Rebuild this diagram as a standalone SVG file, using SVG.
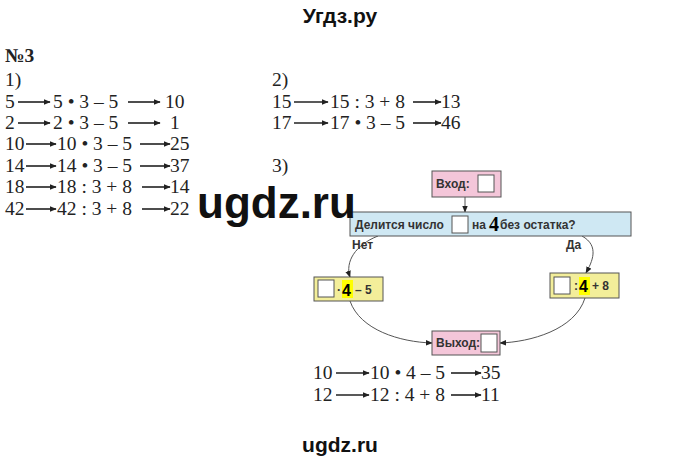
<svg xmlns="http://www.w3.org/2000/svg" width="680" height="463" viewBox="0 0 680 463">
<defs>
<marker id="ah" viewBox="0 0 10 10" refX="9" refY="5" markerWidth="7" markerHeight="7" orient="auto-start-reverse" markerUnits="userSpaceOnUse"><path d="M0,1 L10,5 L0,9 z" fill="#222"/></marker>
<style>
.t{font-family:"Liberation Serif",serif;font-size:19.5px;fill:#222}
.s{font-family:"Liberation Sans",sans-serif;font-weight:bold;font-size:12px;fill:#333}
.a{stroke:#222;stroke-width:1.6;fill:none;marker-end:url(#ah)}
.c{stroke:#555;stroke-width:1;fill:none;marker-end:url(#ah)}
.pink{fill:#f4c6d9;stroke:#555}
.yel{fill:#f3ee9a;stroke:#555}
.sq{fill:#fff;stroke:#555}
.w{font-family:"Liberation Sans",sans-serif;font-weight:bold;fill:#111}
</style>
</defs>
<rect width="680" height="463" fill="#fff"/>
<text class="w" x="340" y="23" font-size="21" text-anchor="middle" font-weight="normal">Угдз.ру</text>
<text class="t" x="5" y="62" font-weight="bold" font-size="18">№3</text>
<text class="t" x="5" y="86">1)</text>
<text class="t" x="5" y="108">5</text><text class="t" x="53" y="108">5 • 3 – 5</text><text class="t" x="165" y="108">10</text>
<text class="t" x="5" y="129">2</text><text class="t" x="53" y="129">2 • 3 – 5</text><text class="t" x="170" y="129">1</text>
<text class="t" x="5" y="150">10</text><text class="t" x="57" y="150">10 • 3 – 5</text><text class="t" x="170" y="150">25</text>
<text class="t" x="5" y="172">14</text><text class="t" x="57" y="172">14 • 3 – 5</text><text class="t" x="170" y="172">37</text>
<text class="t" x="5" y="193">18</text><text class="t" x="57" y="193">18 : 3 + 8</text><text class="t" x="170" y="193">14</text>
<text class="t" x="5" y="215">42</text><text class="t" x="57" y="215">42 : 3 + 8</text><text class="t" x="170" y="215">22</text>
<text class="t" x="272" y="86">2)</text>
<text class="t" x="272" y="108">15</text><text class="t" x="330" y="108">15 : 3 + 8</text><text class="t" x="441" y="108">13</text>
<text class="t" x="272" y="129">17</text><text class="t" x="330" y="129">17 • 3 – 5</text><text class="t" x="441" y="129">46</text>
<text class="t" x="272" y="172">3)</text>
<text class="t" x="313" y="379">10</text><text class="t" x="370" y="379">10 • 4 – 5</text><text class="t" x="481" y="379">35</text>
<text class="t" x="313" y="401">12</text><text class="t" x="370" y="401">12 : 4 + 8</text><text class="t" x="481" y="401">11</text>
<g id="connectors">
<line class="a" x1="18" y1="102" x2="50" y2="102"/><line class="a" x1="128" y1="102" x2="160" y2="102"/>
<line class="a" x1="18" y1="123" x2="50" y2="123"/><line class="a" x1="128" y1="123" x2="160" y2="123"/>
<line class="a" x1="26" y1="144" x2="56" y2="144"/><line class="a" x1="140" y1="144" x2="170" y2="144"/>
<line class="a" x1="26" y1="166" x2="56" y2="166"/><line class="a" x1="140" y1="166" x2="170" y2="166"/>
<line class="a" x1="26" y1="187" x2="56" y2="187"/><line class="a" x1="142" y1="187" x2="170" y2="187"/>
<line class="a" x1="26" y1="209" x2="56" y2="209"/><line class="a" x1="142" y1="209" x2="170" y2="209"/>
<line class="a" x1="294" y1="102" x2="328" y2="102"/><line class="a" x1="413" y1="102" x2="441" y2="102"/>
<line class="a" x1="294" y1="123" x2="328" y2="123"/><line class="a" x1="413" y1="123" x2="441" y2="123"/>
<line class="a" x1="336" y1="373" x2="369" y2="373"/><line class="a" x1="451" y1="373" x2="481" y2="373"/>
<line class="a" x1="336" y1="395" x2="369" y2="395"/><line class="a" x1="451" y1="395" x2="481" y2="395"/>
<line class="c" x1="465" y1="197" x2="465" y2="212"/>
<path class="c" d="M378,236 C355,245 345,262 350,277"/>
<path class="c" d="M582,236 C600,246 592,262 586,273"/>
<path class="c" d="M350,301 C360,330 400,342 432,343"/>
<path class="c" d="M585,298 C575,330 530,342 500,343"/>
</g>
<g id="vhod"><rect class="pink" x="432" y="171" width="69" height="26"/><text class="s" x="436" y="188">Вход:</text><rect class="sq" x="478" y="175" width="16" height="17"/></g>
<g id="check"><rect x="350" y="212" width="281" height="24" fill="#cfe8f3" stroke="#555"/><text class="s" x="355" y="229">Делится число</text><rect class="sq" x="452" y="216" width="16" height="17"/><text class="s" x="472" y="229">на</text><text x="489" y="231" font-family="Liberation Serif,serif" font-weight="bold" font-size="20">4</text><text class="s" x="500" y="229">без остатка?</text></g>
<text class="s" x="352" y="249">Нет</text><text class="s" x="566" y="249">Да</text>
<g id="left"><rect class="yel" x="314" y="277" width="69" height="24"/><rect class="sq" x="318" y="280" width="16" height="17"/><text class="s" x="337" y="294">·</text><rect x="342" y="280" width="11" height="18" fill="#ff0"/><text x="342" y="296" font-family="Liberation Sans,sans-serif" font-weight="bold" font-size="16">4</text><text class="s" x="355" y="294">– 5</text></g>
<g id="right"><rect class="yel" x="550" y="273" width="69" height="25"/><rect class="sq" x="554" y="277" width="16" height="17"/><text class="s" x="574" y="290">:</text><rect x="579" y="277" width="11" height="18" fill="#ff0"/><text x="579" y="292" font-family="Liberation Sans,sans-serif" font-weight="bold" font-size="16">4</text><text class="s" x="592" y="290">+ 8</text></g>
<g id="vyhod"><rect class="pink" x="432" y="331" width="68" height="24"/><text class="s" x="436" y="347">Выход:</text><rect class="sq" x="481" y="334" width="16" height="18"/></g>
<text class="w" x="197" y="218" font-size="44">ugdz.ru</text>
<text class="w" x="340" y="452" font-size="21" text-anchor="middle" font-weight="normal">ugdz.ru</text>
</svg>
